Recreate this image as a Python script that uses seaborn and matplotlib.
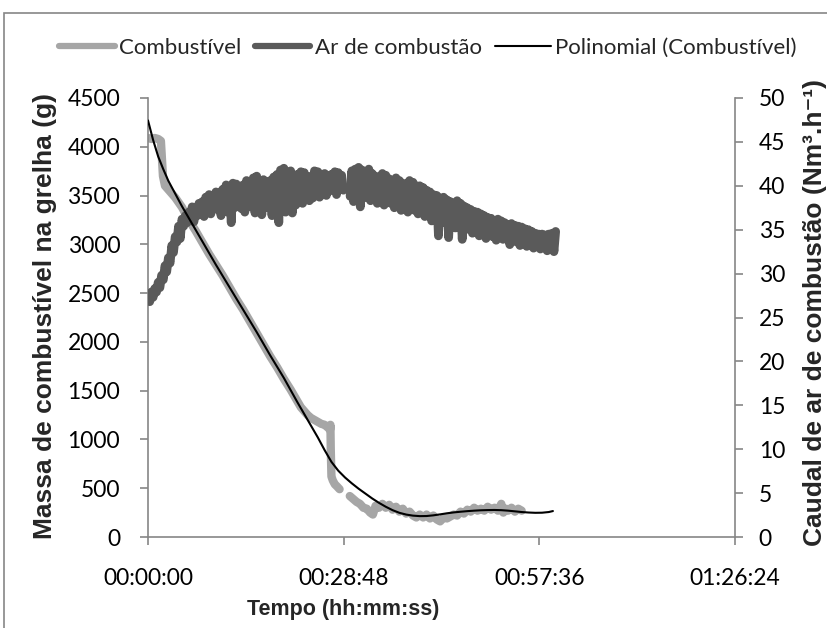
import numpy as np
import pandas as pd
import matplotlib
matplotlib.use('Agg')
import matplotlib.pyplot as plt
import seaborn as sns
from matplotlib.lines import Line2D
from matplotlib.patches import Rectangle

# ---------------- data (time in minutes) ----------------
# Combustível (g) – two recorded segments
comb_t1 = [0.0, 0.5, 1.0, 1.5, 1.9, 2.2, 2.5, 3.0, 3.5, 4.0, 5.0, 6.0, 7.0, 8.0, 9.0,
           10.0, 11.0, 12.0, 13.0, 14.0, 15.0, 16.0, 17.0, 18.0, 19.0, 20.0, 21.0,
           22.0, 22.5, 23.0, 23.5, 24.0, 24.5, 25.0, 25.5, 26.0, 26.5, 26.8, 26.85,
           26.9, 27.0, 27.2, 27.5, 27.8, 28.2]
comb_v1 = [4090, 4080, 4090, 4080, 4060, 3700, 3600, 3560, 3520, 3480, 3380, 3250, 3140,
           3020, 2900, 2790, 2680, 2560, 2440, 2330, 2210, 2090, 1970, 1850, 1740, 1620,
           1510, 1390, 1330, 1290, 1250, 1220, 1200, 1180, 1160, 1150, 1120, 1100, 1150,
           900, 620, 580, 540, 520, 490]
comb_t2 = [29.7, 30.2, 30.7, 31.2, 31.7, 32.2, 32.7, 33.1, 33.5, 34.0, 34.5, 35.0, 35.5,
           36.0, 36.5, 37.0, 37.5, 38.0, 38.5, 39.0, 39.5, 40.0, 40.5, 41.0, 41.5, 42.0,
           42.5, 43.0, 43.5, 44.0, 44.5, 45.0, 45.5, 46.0, 46.5, 47.0, 47.5, 48.0, 48.5,
           49.0, 49.5, 50.0, 50.5, 51.0, 51.5, 52.0, 52.3, 52.7, 53.0, 53.5, 54.0, 54.5, 55.0]
comb_v2 = [420, 390, 360, 340, 300, 290, 250, 230, 320, 300, 340, 300, 330, 280, 310, 260,
           290, 240, 260, 220, 200, 230, 200, 230, 190, 220, 180, 160, 200, 190, 210, 230,
           220, 260, 240, 280, 260, 300, 270, 290, 270, 310, 280, 300, 270, 340, 250, 290,
           270, 300, 260, 290, 270]

# Ar de combustão (Nm3/h): upper readings every 0.5 min, lower readings in between
ar_high = [27.6, 27.9, 28.3, 29.0, 29.8, 30.9, 31.8, 33.2, 34.2, 35.4, 36.2, 36.6, 37.0,
           37.6, 37.3, 38.0, 38.2, 38.7, 39.0, 38.6, 39.3, 39.0, 39.6, 40.1, 39.8, 40.3,
           40.2, 39.7, 40.1, 40.6, 40.4, 40.9, 41.1, 40.5, 40.7, 40.2, 40.6, 41.0, 41.3,
           41.8, 42.0, 41.5, 41.7, 41.2, 41.3, 41.6, 41.5, 41.0, 41.1, 41.7, 41.6, 41.3,
           41.4, 41.0, 41.3, 41.6, 41.5, 41.2, 41.0, 41.4, 41.7, 41.9, 42.1, 41.8, 41.6,
           41.9, 41.4, 41.1, 41.0, 41.4, 41.2, 40.8, 40.6, 40.9, 40.6, 40.3, 40.2, 40.6,
           40.4, 40.0, 40.0, 39.8, 39.5, 39.3, 39.0, 38.9, 38.6, 38.7, 38.4, 38.2, 38.0,
           38.3, 38.0, 37.7, 37.5, 37.3, 37.1, 37.0, 36.8, 36.6, 36.4, 36.3, 36.0, 36.2,
           36.0, 35.8, 35.6, 35.7, 35.5, 35.4, 35.3, 35.1, 35.0, 34.8, 34.6, 34.5, 34.5,
           34.4, 34.5, 34.6, 34.8]
ar_low = [26.8, 27.3, 27.9, 28.4, 29.3, 30.2, 31.2, 32.4, 33.6, 34.0, 35.4, 35.8, 36.4,
          35.9, 36.6, 37.0, 36.5, 37.4, 36.8, 37.6, 37.3, 36.6, 37.8, 37.0, 35.8, 37.5,
          37.9, 37.4, 37.0, 38.2, 37.6, 36.9, 37.8, 36.7, 37.5, 37.9, 36.6, 37.7, 35.8,
          37.4, 37.0, 38.2, 36.9, 37.8, 38.4, 38.0, 38.8, 38.3, 38.6, 39.0, 38.7, 39.3,
          38.9, 39.4, 39.6, 39.0, 39.8, 39.5, 39.0, 38.8, 38.2, 38.9, 37.6, 38.6, 38.9,
          38.3, 38.6, 38.0, 38.5, 37.8, 38.4, 38.0, 37.5, 38.0, 37.2, 37.8, 37.0, 37.5,
          37.2, 36.8, 37.3, 36.5, 36.8, 36.0, 36.4, 34.3, 36.0, 35.8, 34.1, 35.6, 35.2,
          35.5, 33.9, 35.0, 35.3, 34.6, 34.9, 34.3, 34.8, 34.0, 34.6, 34.2, 33.8, 34.4,
          33.9, 34.2, 33.3, 33.9, 33.6, 33.2, 33.7, 33.1, 33.5, 32.9, 33.3, 32.8, 33.2,
          32.6, 32.9, 32.5]
ar_high_t = [0.5 * i for i in range(len(ar_high))]
ar_low_t = [0.5 * i + 0.25 for i in range(len(ar_low))]
ar_gap = (28.9, 29.6)   # short interruption of the record

# Polinomial (Combustível) trend line
poly_t = [0, 0.75, 1.5, 2.25, 3, 4, 5, 6, 8, 10, 12, 14, 16, 18, 20, 22, 24, 25, 26, 27,
          28, 29, 30, 31, 32, 33, 34, 35, 36, 37, 38, 39, 40, 41, 42, 43, 44, 45, 46, 47,
          48, 49, 50, 51, 52, 53, 54, 55, 56, 57, 58, 59, 59.6]
poly_v = [4270, 4070, 3900, 3770, 3650, 3520, 3390, 3270, 3030, 2790, 2560, 2330, 2100,
          1860, 1630, 1380, 1140, 1020, 890, 770, 680, 610, 550, 495, 445, 395, 350, 310,
          275, 248, 230, 219, 214, 215, 222, 232, 243, 252, 259, 265, 270, 274, 276, 277,
          275, 270, 263, 256, 251, 248, 249, 256, 266]

x_ticks = [0, 28.8, 57.6, 86.4]
x_tick_labels = ['00:00:00', '00:28:48', '00:57:36', '01:26:24']
mass_ticks = list(range(0, 4501, 500))
air_ticks = list(range(0, 51, 5))

# ---------------- frames ----------------
comb_df = pd.DataFrame({
    't': comb_t1 + comb_t2,
    'v': comb_v1 + comb_v2,
    'seg': [1] * len(comb_t1) + [2] * len(comb_t2),
})

ar_t, ar_v = [], []
for i in range(len(ar_high_t)):
    ar_t.append(ar_high_t[i]); ar_v.append(ar_high[i])
    if i < len(ar_low_t):
        ar_t.append(ar_low_t[i]); ar_v.append(ar_low[i])
ar_df = pd.DataFrame({'t': ar_t, 'v': ar_v})
ar_df = ar_df[(ar_df['t'] < ar_gap[0]) | (ar_df['t'] > ar_gap[1])].copy()
ar_df['seg'] = np.where(ar_df['t'] < ar_gap[0], 1, 2)

poly_df = pd.DataFrame({'t': poly_t, 'v': poly_v})

# ---------------- style ----------------
sns.set_theme(style='white')
plt.rcParams['font.family'] = ['Lato', 'DejaVu Sans']

LIGHT = '#a6a6a6'
DARK = '#5a5a5a'
AXC = '#868686'

W, H = 827, 628
fig = plt.figure(figsize=(W / 100, H / 100), dpi=100)
ax = fig.add_axes([148 / W, 1 - 537 / H, 587 / W, 439 / H])
ax2 = ax.twinx()

sns.lineplot(data=comb_df, x='t', y='v', units='seg', estimator=None, sort=False,
             color=LIGHT, lw=6.0, ax=ax, solid_capstyle='round')
sns.lineplot(data=ar_df, x='t', y='v', units='seg', estimator=None, sort=False,
             color=DARK, lw=6.3, ax=ax2, solid_capstyle='round')
sns.lineplot(data=poly_df, x='t', y='v', estimator=None, sort=False,
             color='black', lw=1.5, ax=ax2, transform=ax.transData)

ax.set_xlim(0, 86.4)
ax.set_ylim(0, 4500)
ax2.set_ylim(0, 50)
ax.set_xticks(x_ticks)
ax.set_xticklabels(x_tick_labels)
ax.set_yticks(mass_ticks)
ax2.set_yticks(air_ticks)
for a in (ax, ax2):
    a.set_xlabel('')
    a.set_ylabel('')
    a.grid(False)
    for s in a.spines.values():
        s.set_visible(False)
        s.set_color(AXC)
        s.set_linewidth(1.2)
ax.spines['left'].set_visible(True)
ax.spines['bottom'].set_visible(True)
ax2.spines['right'].set_visible(True)
ax.patch.set_visible(False)
ax2.patch.set_visible(False)

ax.tick_params(axis='x', bottom=True, direction='out', length=6, width=1.2, color=AXC,
               pad=16, labelsize=16.5, labelcolor='black')
ax.tick_params(axis='y', left=True, direction='out', length=6, width=1.2, color=AXC,
               pad=14, labelsize=16.5, labelcolor='black')
ax2.tick_params(axis='y', right=True, direction='out', length=6, width=1.2, color=AXC,
                pad=11, labelsize=16.5, labelcolor='black')

lab_font = ['Liberation Sans', 'DejaVu Sans']
fig.text(45 / W, 1 - 316 / H, 'Massa de combustível na grelha (g)', rotation=90,
         ha='center', va='center', fontsize=19, fontweight='bold', family=lab_font)
fig.text(815 / W, 1 - 313 / H, 'Caudal de ar de combustão (Nm³.h⁻¹)', rotation=90,
         ha='center', va='center', fontsize=19, fontweight='bold', family=lab_font)
fig.text(343 / W, 1 - 609 / H, 'Tempo (hh:mm:ss)', ha='center', va='center',
         fontsize=15.5, fontweight='bold', family=lab_font)

handles = [Line2D([], [], color=LIGHT, lw=4.5, solid_capstyle='round'),
           Line2D([], [], color=DARK, lw=4.5, solid_capstyle='round'),
           Line2D([], [], color='black', lw=1.5)]
fig.legend(handles, ['Combustível', 'Ar de combustão', 'Polinomial (Combustível)'],
           loc='center', bbox_to_anchor=(428 / W, 1 - 48 / H), ncol=3, frameon=False,
           fontsize=16, handlelength=2.5, handletextpad=0.2, columnspacing=0.6)

fig.add_artist(Rectangle((4 / W, -0.1), 1.2, 1 - 13 / H + 0.1, transform=fig.transFigure,
                         fill=False, edgecolor=AXC, lw=1.2))

fig.savefig('out.png', dpi=100)
